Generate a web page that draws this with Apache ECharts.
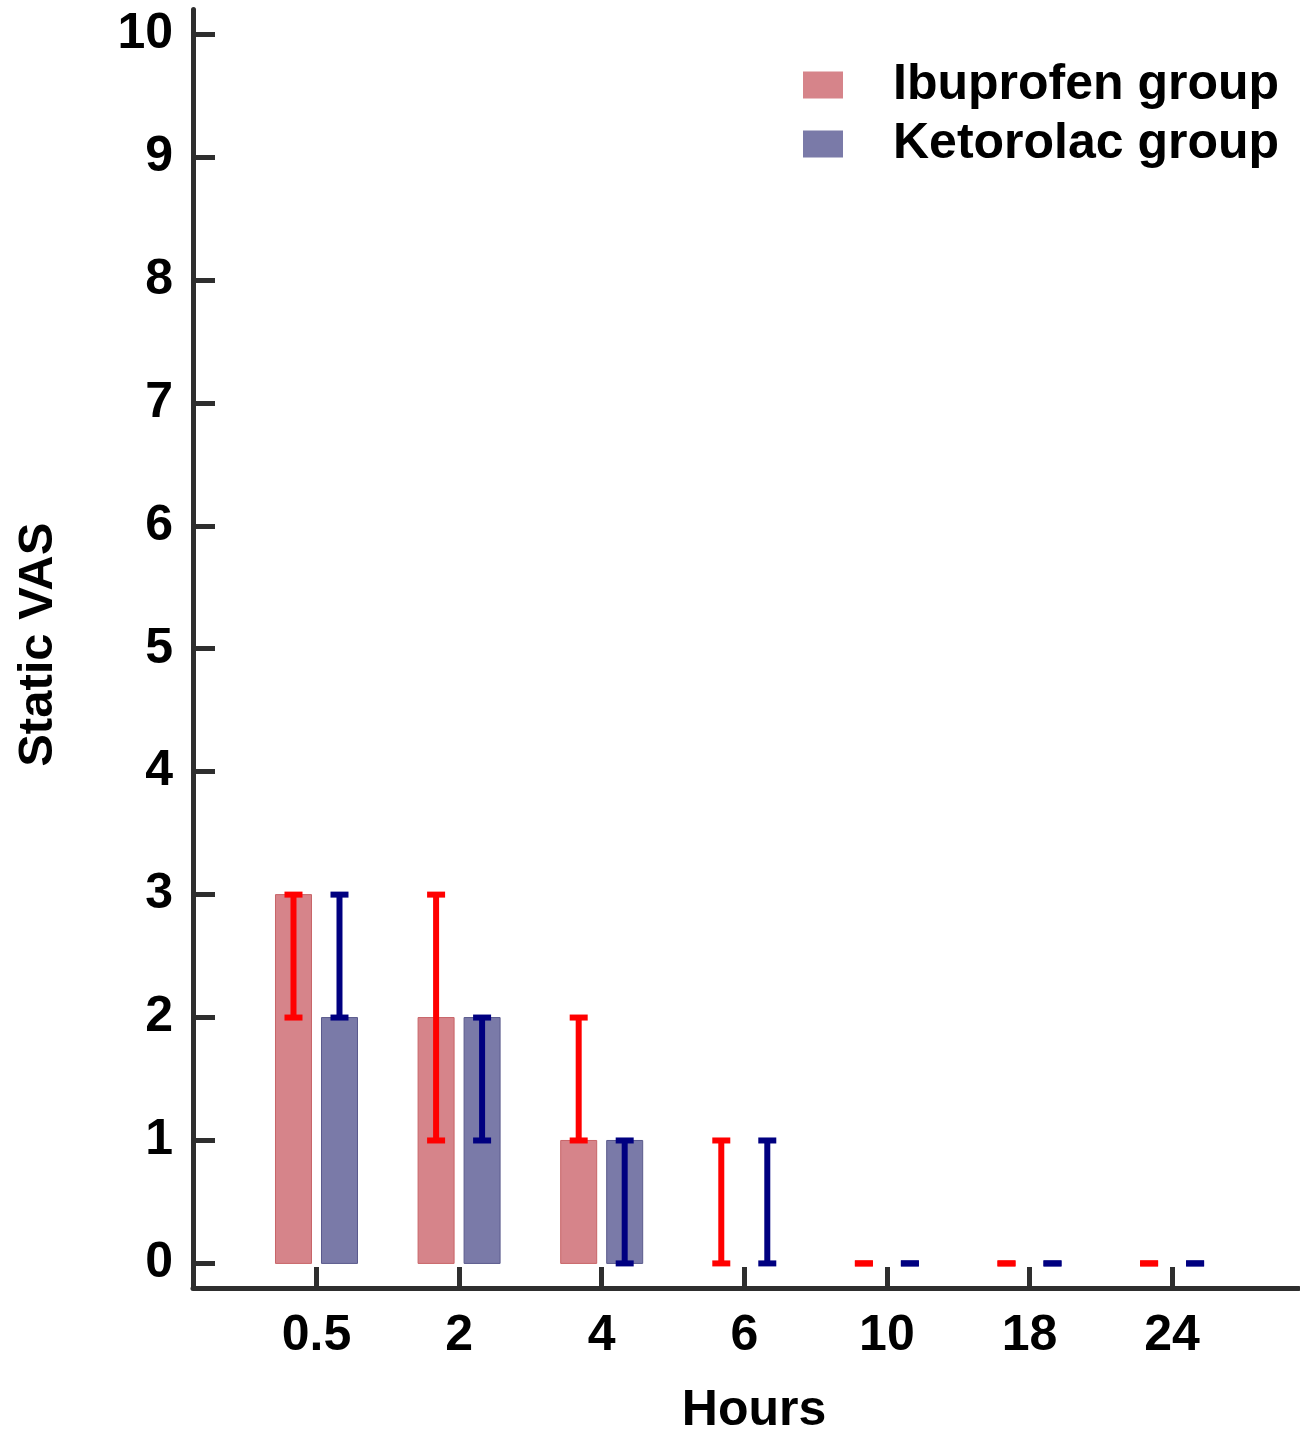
<!DOCTYPE html>
<html>
<head>
<meta charset="utf-8">
<script src="https://cdn.jsdelivr.net/npm/echarts@6/dist/echarts.min.js"></script>
<style>html,body{margin:0;padding:0;background:#fff}#c{width:1300px;height:1430px}</style>
</head>
<body>
<div id="c"></div>
<script>
var categories = ['0.5', '2', '4', '6', '10', '18', '24'];
var ibuMedian = [3, 2, 1, 0, 0, 0, 0];
var ibuLow    = [2, 1, 1, 0, 0, 0, 0];
var ibuHigh   = [3, 3, 2, 1, 0, 0, 0];
var ketMedian = [2, 2, 1, 0, 0, 0, 0];
var ketLow    = [2, 1, 0, 0, 0, 0, 0];
var ketHigh   = [3, 2, 1, 1, 0, 0, 0];
var yTicks = [0, 1, 2, 3, 4, 5, 6, 7, 8, 9, 10];

var FONT = "'Liberation Sans', Arial, sans-serif";
var AX = '#2e2e2e';
var OFF = 23, BW = 36, CAP = 18, EW = 6;

function barSeries(name, med, color, border, off) {
  return {
    name: name, type: 'custom',
    itemStyle: { color: color },
    data: med.map(function (v, i) { return [i, v]; }),
    renderItem: function (params, api) {
      var p0 = api.coord([api.value(0), 0]);
      var p1 = api.coord([api.value(0), api.value(1)]);
      var h = p0[1] - p1[1];
      if (h <= 0.5) return null;
      return {
        type: 'rect',
        shape: { x: p0[0] + off - BW / 2, y: p1[1], width: BW, height: h },
        style: { fill: color, stroke: border, lineWidth: 1 }
      };
    },
    z: 2
  };
}

function errSeries(low, high, color, off) {
  return {
    type: 'custom',
    data: low.map(function (v, i) { return [i, v, high[i]]; }),
    renderItem: function (params, api) {
      var pl = api.coord([api.value(0), api.value(1)]);
      var ph = api.coord([api.value(0), api.value(2)]);
      var x = pl[0] + off;
      var ch = [];
      if (pl[1] - ph[1] > 0.5) {
        ch.push({ type: 'line', shape: { x1: x, y1: pl[1], x2: x, y2: ph[1] },
          style: { stroke: color, lineWidth: EW } });
      }
      ch.push({ type: 'line', shape: { x1: x - CAP / 2, y1: ph[1], x2: x + CAP / 2, y2: ph[1] },
        style: { stroke: color, lineWidth: EW } });
      ch.push({ type: 'line', shape: { x1: x - CAP / 2, y1: pl[1], x2: x + CAP / 2, y2: pl[1] },
        style: { stroke: color, lineWidth: EW } });
      return { type: 'group', children: ch };
    },
    z: 3
  };
}

var chart = echarts.init(document.getElementById('c'), null, { renderer: 'canvas' });
chart.setOption({
  animation: false,
  backgroundColor: '#fff',
  grid: { left: 193, right: 1, top: 9.5, bottom: 142, containLabel: false, outerBoundsMode: 'none' },
  legend: {
    orient: 'vertical', left: 803, top: 60,
    itemWidth: 40, itemHeight: 27, itemGap: 9, padding: 0,
    icon: 'rect',
    data: ['Ibuprofen group', 'Ketorolac group'],
    textStyle: { fontFamily: FONT, fontWeight: 'bold', fontSize: 50, color: '#000', padding: [0, 0, 0, 45] }
  },
  xAxis: {
    type: 'value', min: -0.866, max: 6.89,
    name: 'Hours', nameLocation: 'middle', nameGap: 98,
    nameTextStyle: { fontFamily: FONT, fontWeight: 'bold', fontSize: 50, color: '#000', padding: [0, 0, 0, 16] },
    splitLine: { show: false },
    axisLine: { show: true, onZero: false, lineStyle: { color: AX, width: 5 } },
    axisTick: { show: true, inside: true, length: 21, customValues: [0, 1, 2, 3, 4, 5, 6],
      lineStyle: { color: AX, width: 5 } },
    axisLabel: { customValues: [0, 1, 2, 3, 4, 5, 6], margin: 23,
      fontFamily: FONT, fontWeight: 'bold', fontSize: 50, color: '#000',
      formatter: function (v) { return categories[Math.round(v)]; } }
  },
  yAxis: {
    type: 'value', min: -0.2, max: 10.2,
    name: 'Static VAS', nameLocation: 'middle', nameGap: 130,
    nameTextStyle: { fontFamily: FONT, fontWeight: 'bold', fontSize: 49, color: '#000', padding: [0, 0, 0, 8] },
    splitLine: { show: false },
    axisLine: { show: true, onZero: false, lineStyle: { color: AX, width: 5 } },
    axisTick: { show: true, inside: true, length: 22, customValues: yTicks,
      lineStyle: { color: AX, width: 5 } },
    axisLabel: { customValues: yTicks, margin: 20,
      fontFamily: FONT, fontWeight: 'bold', fontSize: 50, color: '#000' }
  },
  series: [
    barSeries('Ibuprofen group', ibuMedian, '#d6848a', '#c86468', -OFF),
    barSeries('Ketorolac group', ketMedian, '#7a7aa8', '#5a5a8c', OFF),
    errSeries(ibuLow, ibuHigh, '#ff0000', -OFF),
    errSeries(ketLow, ketHigh, '#000080', OFF)
  ]
});
</script>
</body>
</html>
